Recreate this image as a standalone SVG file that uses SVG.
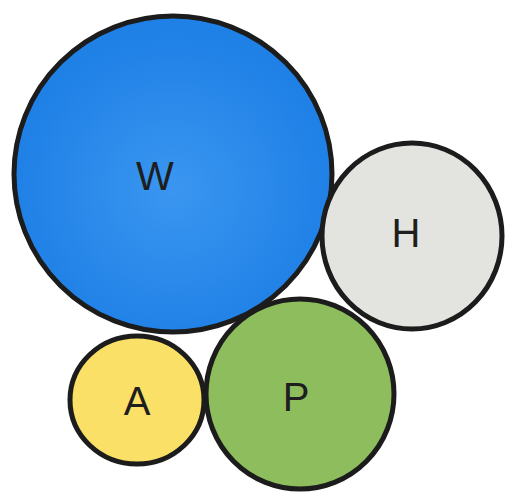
<svg xmlns="http://www.w3.org/2000/svg" width="508" height="494" viewBox="0 0 508 494">
<defs>
<radialGradient id="gw" cx="0.5" cy="0.55" r="0.5">
<stop offset="0" stop-color="#3a96f0"/>
<stop offset="1" stop-color="#1f80e6"/>
</radialGradient>
<style>
.c{stroke:#1c1c1c;stroke-width:5}
.t{font-family:"Liberation Sans",Arial,sans-serif;font-size:40px;fill:#1e1e1e;text-anchor:middle}
</style>
</defs>
<rect width="508" height="494" fill="#ffffff"/>
<g id="W"><ellipse class="c" cx="173" cy="174" rx="159" ry="158" fill="url(#gw)"/><text class="t" x="155" y="190">W</text></g>
<g id="H"><ellipse class="c" cx="412" cy="236" rx="90" ry="93" fill="#e3e3df"/><text class="t" x="406" y="247">H</text></g>
<g id="P"><ellipse class="c" cx="300" cy="394" rx="94" ry="95" fill="#8dbd5c"/><text class="t" x="296" y="411">P</text></g>
<g id="A"><ellipse class="c" cx="137" cy="400" rx="67" ry="64" fill="#fbe068"/><text class="t" x="137" y="415">A</text></g>
<g id="connectors"></g>
</svg>
